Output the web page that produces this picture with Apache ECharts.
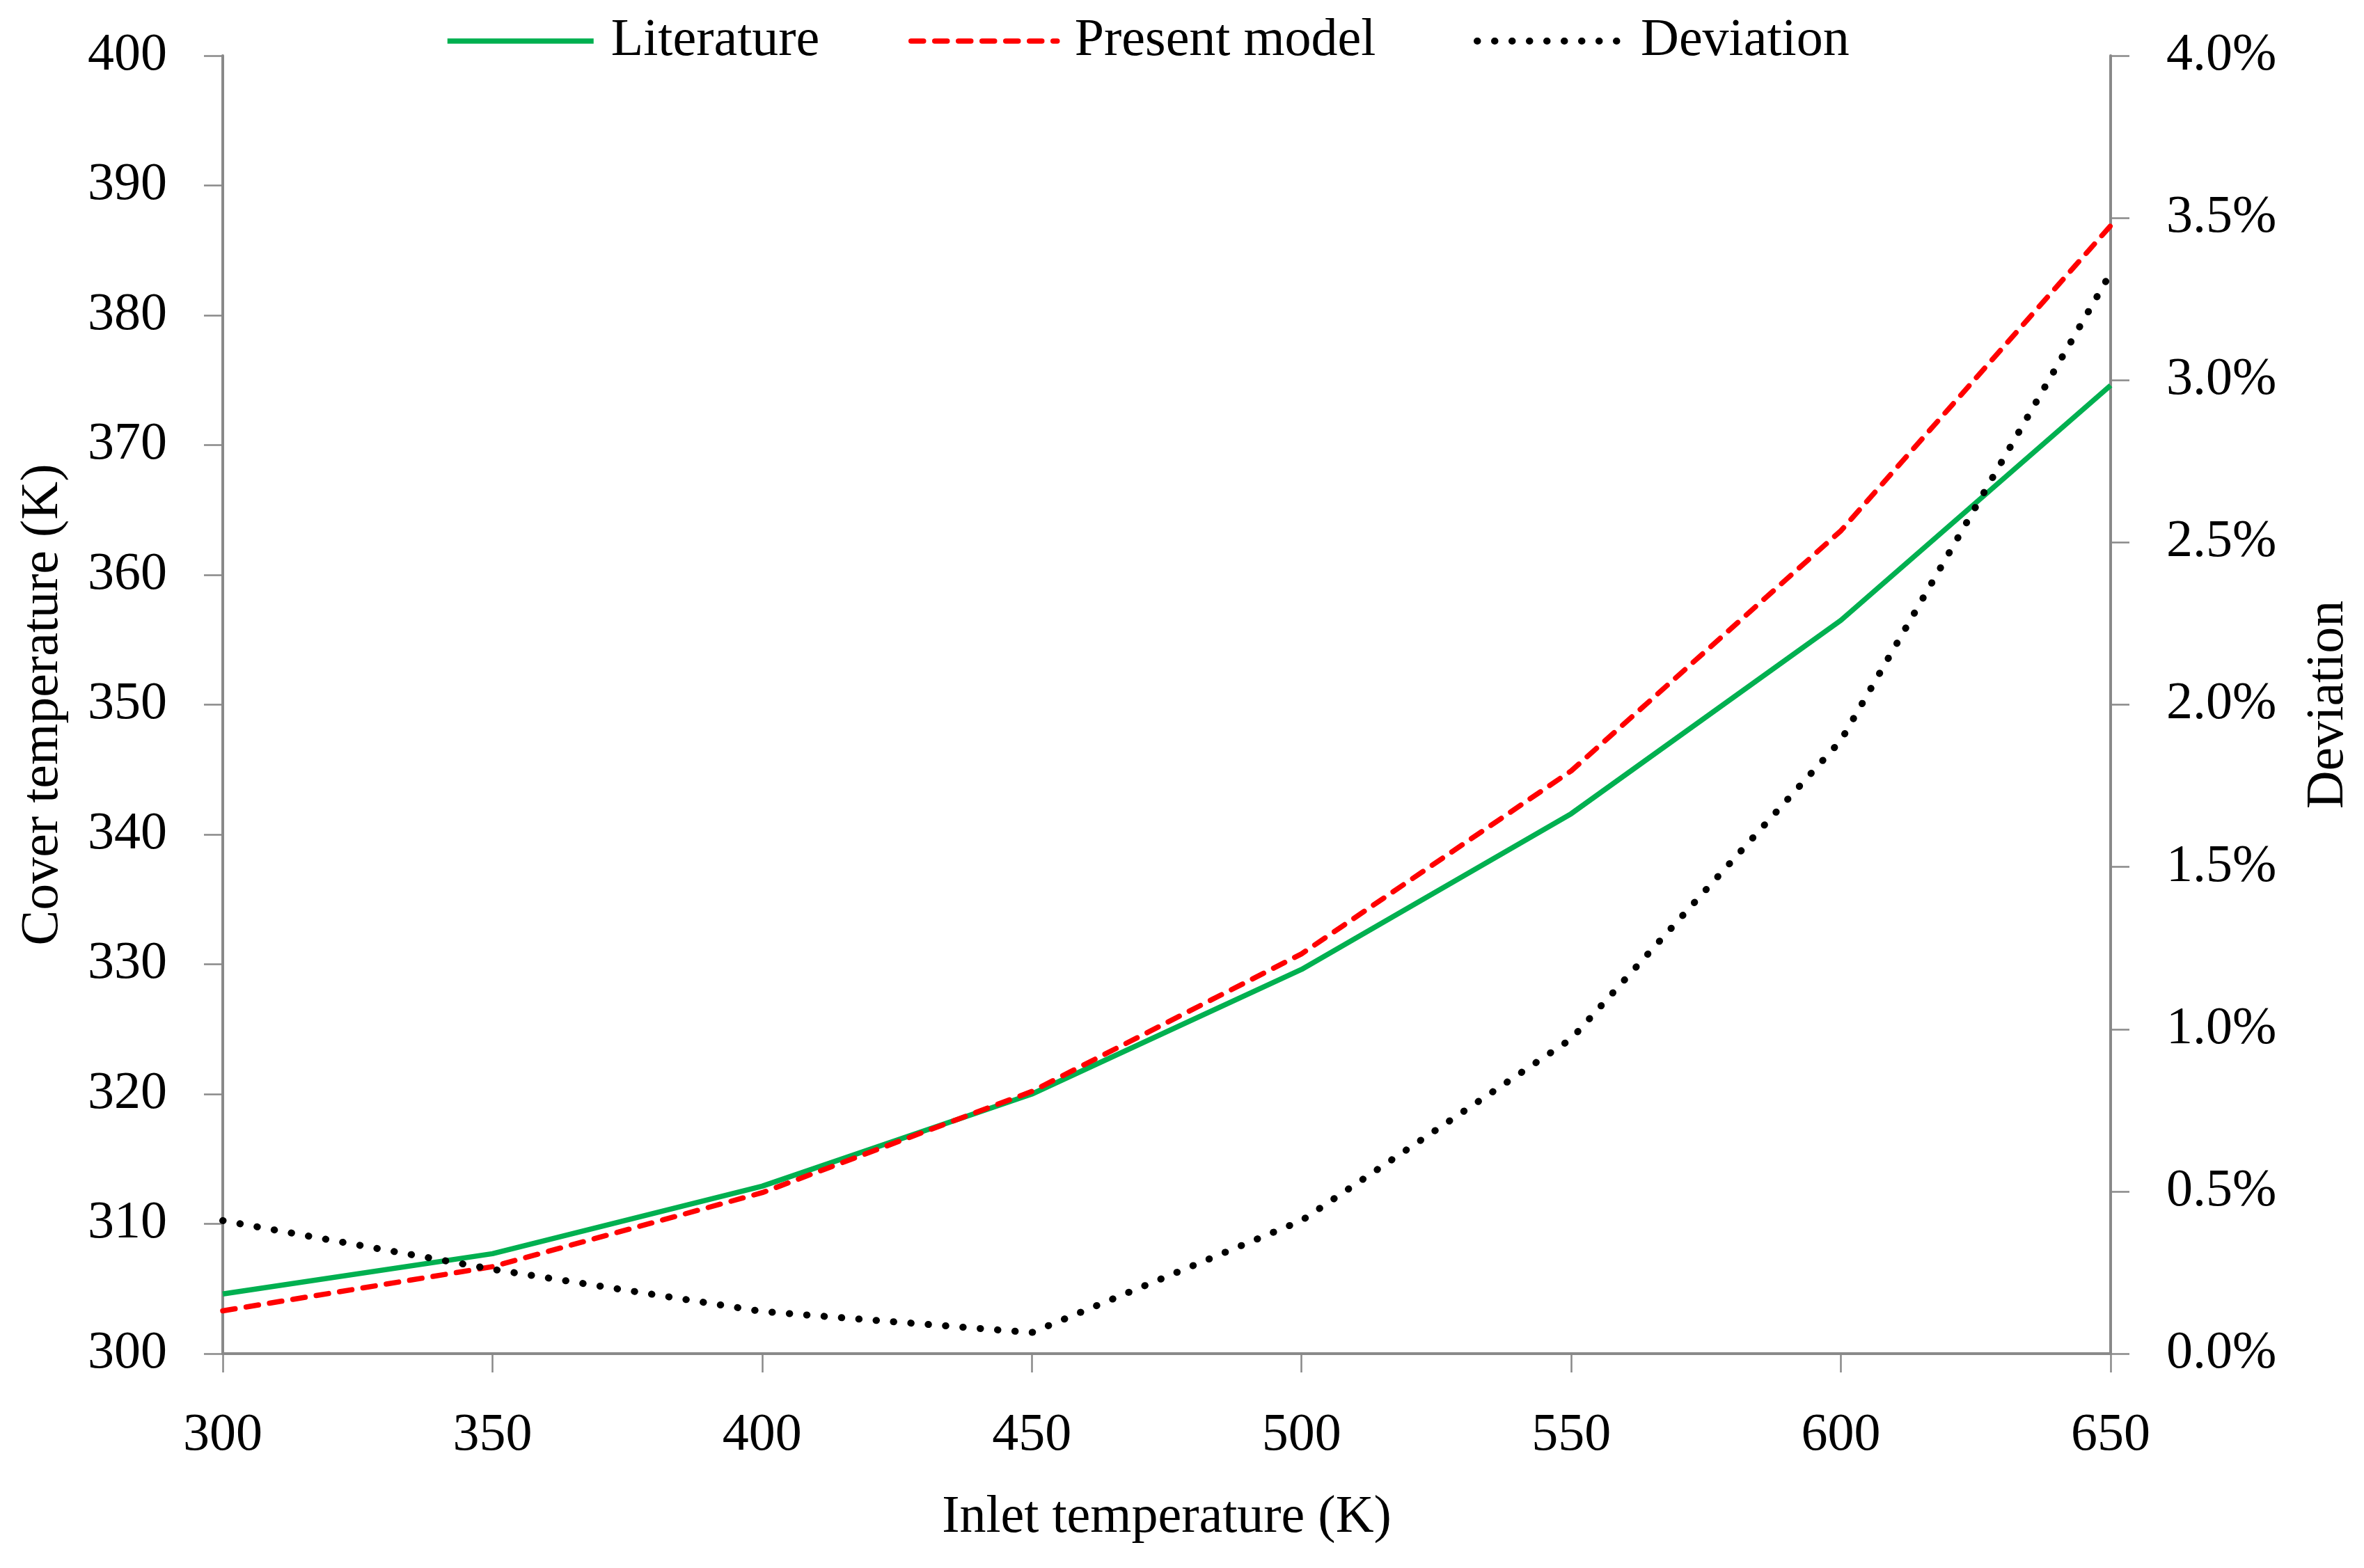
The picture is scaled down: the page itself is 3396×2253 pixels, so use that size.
<!DOCTYPE html>
<html>
<head>
<meta charset="utf-8">
<script src="https://cdn.jsdelivr.net/npm/echarts@6/dist/echarts.min.js"></script>
<style>
html,body{margin:0;padding:0;background:#fff;}
#chart{width:3396px;height:2253px;}
</style>
</head>
<body>
<div id="chart"></div>
<script>
const xValues = [300, 350, 400, 450, 500, 550, 600, 650];
const literature = [304.6, 307.7, 312.9, 320.0, 329.6, 341.6, 356.5, 374.6];
const presentModel = [303.3, 306.7, 312.4, 320.2, 330.8, 344.9, 363.4, 386.9];
const deviation = [0.41, 0.26, 0.13, 0.065, 0.41, 0.97, 1.89, 3.33];
const seriesNames = ['Literature', 'Present model', 'Deviation'];

const FONT = 'Liberation Serif';
const FS = 76;
const AXIS_GRAY = '#898989';

function pairs(ys) { return xValues.map((x, i) => [x, ys[i]]); }

const chart = echarts.init(document.getElementById('chart'), null, {renderer: 'canvas'});

const legendCommon = {
  top: 16,
  itemWidth: 210,
  itemHeight: 14,
  textStyle: {fontFamily: FONT, fontSize: FS, color: '#000', padding: [0, 0, 0, 20]},
  itemStyle: {color: 'rgba(0,0,0,0)', borderColor: 'rgba(0,0,0,0)', borderWidth: 0, opacity: 0},
  selectedMode: false
};

chart.setOption({
  animation: false,
  backgroundColor: '#fff',
  textStyle: {fontFamily: FONT},
  legend: [
    Object.assign({}, legendCommon, {left: 634, data: [seriesNames[0]], lineStyle: {width: 7.5}}),
    Object.assign({}, legendCommon, {left: 1300, data: [seriesNames[1]], lineStyle: {width: 7.5}}),
    Object.assign({}, legendCommon, {left: 2112, data: [seriesNames[2]], lineStyle: {width: 10}})
  ],
  grid: {left: 320, right: 364, top: 80, bottom: 308, containLabel: false},
  xAxis: {
    type: 'value', min: 300, max: 650, interval: 50,
    name: 'Inlet temperature (K)', nameLocation: 'middle', nameGap: 198,
    nameTextStyle: {fontFamily: FONT, fontSize: FS, color: '#000'},
    axisLine: {show: true, lineStyle: {color: AXIS_GRAY, width: 4}},
    axisTick: {show: true, length: 27, lineStyle: {color: AXIS_GRAY, width: 2.5}},
    axisLabel: {fontFamily: FONT, fontSize: FS, color: '#000', margin: 80},
    splitLine: {show: false}
  },
  yAxis: [
    {
      type: 'value', min: 300, max: 400, interval: 10, position: 'left',
      name: 'Cover temperature (K)', nameLocation: 'middle', nameGap: 220, nameRotate: 90,
      nameTextStyle: {fontFamily: FONT, fontSize: FS, color: '#000'},
      axisLine: {show: true, lineStyle: {color: AXIS_GRAY, width: 4}},
      axisTick: {show: true, length: 27, lineStyle: {color: AXIS_GRAY, width: 2.5}},
      axisLabel: {fontFamily: FONT, fontSize: FS, color: '#000', margin: 80},
      splitLine: {show: false}
    },
    {
      type: 'value', min: 0, max: 4, interval: 0.5, position: 'right',
      name: 'Deviation', nameLocation: 'middle', nameGap: 275, nameRotate: 90,
      nameTextStyle: {fontFamily: FONT, fontSize: FS, color: '#000'},
      axisLine: {show: true, lineStyle: {color: AXIS_GRAY, width: 4}},
      axisTick: {show: true, length: 27, lineStyle: {color: AXIS_GRAY, width: 2.5}},
      axisLabel: {fontFamily: FONT, fontSize: FS, color: '#000', margin: 80,
        formatter: v => v.toFixed(1) + '%'},
      splitLine: {show: false}
    }
  ],
  series: [
    {
      name: seriesNames[0], type: 'line', yAxisIndex: 0, data: pairs(literature),
      symbol: 'none', showSymbol: false, z: 2,
      lineStyle: {color: '#00B050', width: 7.5}, itemStyle: {color: '#00B050'}
    },
    {
      name: seriesNames[1], type: 'line', yAxisIndex: 0, data: pairs(presentModel),
      symbol: 'none', showSymbol: false, z: 3,
      lineStyle: {color: '#FF0000', width: 7.5, type: [18, 16], cap: 'round'}, itemStyle: {color: '#FF0000'}
    },
    {
      name: seriesNames[2], type: 'line', yAxisIndex: 1, data: pairs(deviation),
      symbol: 'none', showSymbol: false, z: 4,
      lineStyle: {color: '#000000', width: 10, type: [0.5, 24.5], cap: 'round'}, itemStyle: {color: '#000000'}
    }
  ]
});
</script>
</body>
</html>
